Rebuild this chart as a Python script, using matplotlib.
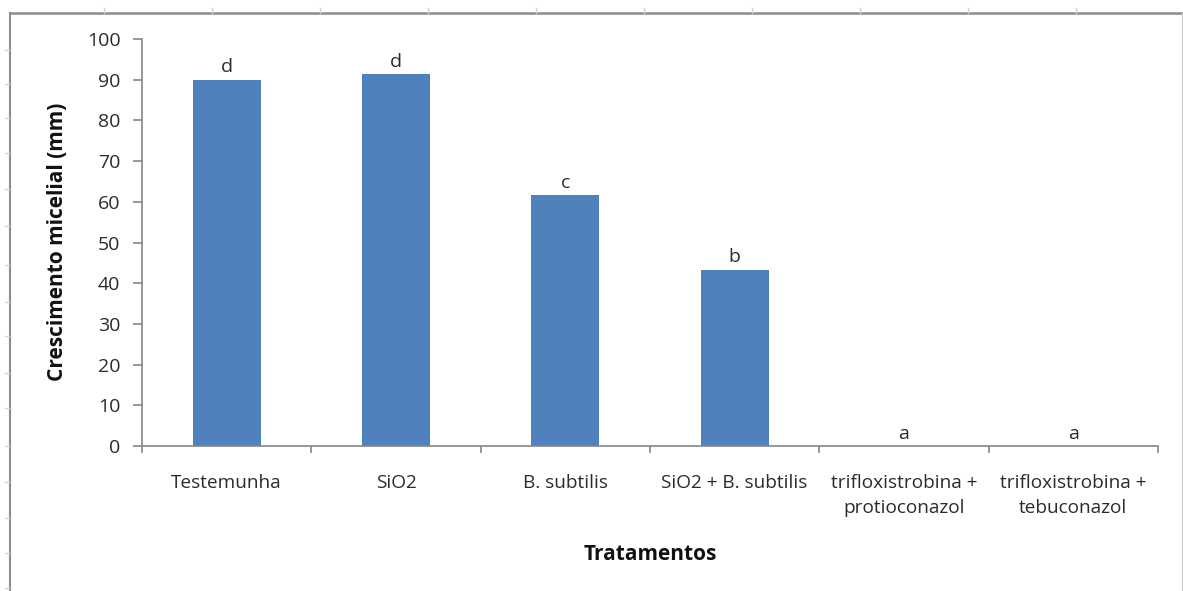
import matplotlib
matplotlib.use("Agg")
import matplotlib.pyplot as plt
from matplotlib.lines import Line2D

plt.rcParams['font.family'] = ['Open Sans', 'DejaVu Sans']

categories = ["Testemunha", "SiO2", "B. subtilis", "SiO2 + B. subtilis",
              "trifloxistrobina +\nprotioconazol", "trifloxistrobina +\ntebuconazol"]
values = [90.0, 91.4, 61.6, 43.3, 0.0, 0.0]
letters = ["d", "d", "c", "b", "a", "a"]
yticks = [0, 10, 20, 30, 40, 50, 60, 70, 80, 90, 100]

W, H = 1183, 591
fig = plt.figure(figsize=(W / 100, H / 100), dpi=100)
ax = fig.add_axes([142 / W, 1 - 446 / H, (1158 - 142) / W, (446 - 39) / H])

txt = "#2b2b2b"
x = list(range(len(categories)))
ax.bar(x, values, width=0.4, color="#4F81BD", zorder=2)
for xi, v, l in zip(x, values, letters):
    ax.annotate(l, (xi, v), xytext=(0, 2.5), textcoords="offset points",
                ha="center", va="bottom", fontsize=14, color=txt)

ax.set_xlim(-0.5, len(categories) - 0.5)
ax.set_ylim(0, 100)
ax.set_yticks(yticks)
ax.set_yticklabels([str(t) for t in yticks], fontsize=14, color=txt)
ax.set_xticks(x)
ax.set_xticklabels(categories, fontsize=13.7, color=txt, linespacing=1.55, va="top")
ax.tick_params(axis="x", length=0, pad=20)
# category boundary ticks
ax.set_xticks([i - 0.5 for i in range(len(categories) + 1)], minor=True)
ax.tick_params(axis="x", which="minor", length=5, color="#868686", width=1.2)
ax.tick_params(axis="y", length=6.5, color="#868686", width=1.2, pad=9)

for s in ["top", "right"]:
    ax.spines[s].set_visible(False)
for s in ["left", "bottom"]:
    ax.spines[s].set_color("#868686")
    ax.spines[s].set_linewidth(1.2)

fig.text(58 / W, 1 - 242 / H, "Crescimento micelial (mm)", fontsize=15,
         fontweight="bold", rotation=90, ha="center", va="center", color="#111111")
fig.text(650 / W, 1 - 555 / H, "Tratamentos", fontsize=15, fontweight="bold",
         ha="center", va="center", color="#111111")

# outer frame
frame_col = "#8c8c8c"
fig.add_artist(Line2D([10 / W, 1182 / W], [1 - 13 / H, 1 - 13 / H],
                      transform=fig.transFigure, color=frame_col, lw=1.8))
fig.add_artist(Line2D([10 / W, 10 / W], [1 - 13 / H, 0],
                      transform=fig.transFigure, color=frame_col, lw=1.5))
fig.add_artist(Line2D([1182 / W, 1182 / W], [1 - 13 / H, 0],
                      transform=fig.transFigure, color="#cccccc", lw=1.0))
# faint ruler marks
for px in [104, 212, 320, 428, 536, 644, 752, 860, 968, 1076]:
    fig.add_artist(Line2D([px / W, px / W], [1 - 8 / H, 1 - 13 / H],
                          transform=fig.transFigure, color="#cfcfcf", lw=1.0))
for py in [50, 84, 118, 153, 189, 226, 265, 302, 336, 373, 408, 446, 482, 518, 553, 588]:
    fig.add_artist(Line2D([5 / W, 9 / W], [1 - py / H, 1 - py / H],
                          transform=fig.transFigure, color="#d5d5d5", lw=1.0))

fig.savefig("out.png", dpi=100, facecolor="white")
